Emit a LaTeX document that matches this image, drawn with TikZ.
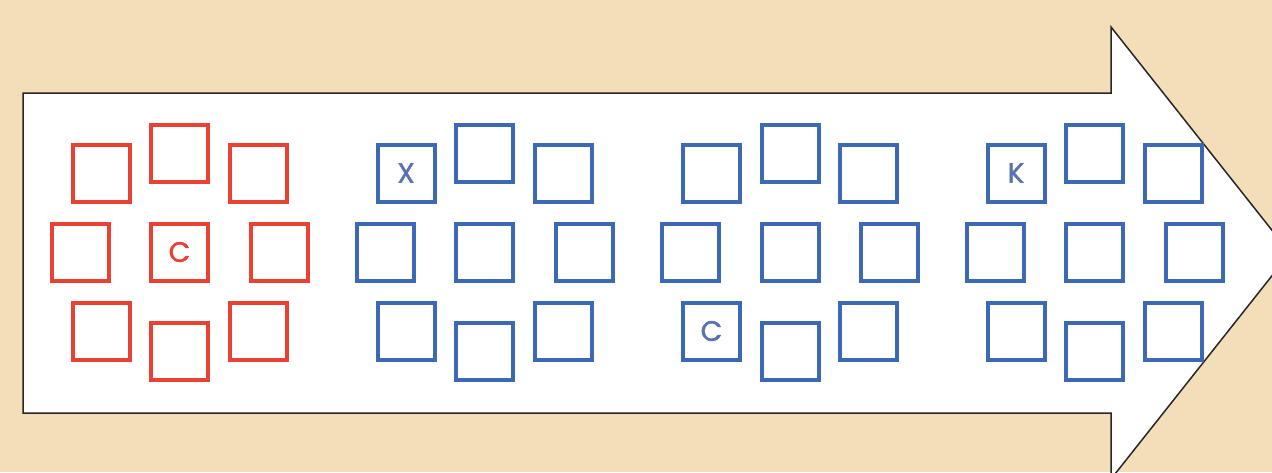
\documentclass[tikz,border=0pt]{standalone}
\usepackage{fontspec}
\usepackage{tikz}
\usetikzlibrary{positioning}
\newfontfamily\cellfont[FakeBold=1.3]{Poppins}
\definecolor{sand}{HTML}{F3DEB9}
\definecolor{cellred}{HTML}{EA4135}
\definecolor{cellblue}{HTML}{3C69B4}
\definecolor{letterblue}{HTML}{5A72B2}

\begin{document}
\begin{tikzpicture}[x=0.2mm, y=-0.2mm,
  cell/.style={draw, line width=0.8mm, minimum size=11.4mm, inner sep=0pt},
  redcell/.style={cell, draw=cellred},
  bluecell/.style={cell, draw=cellblue},
  tag/.style={font=\cellfont\fontsize{16}{16}\selectfont, inner sep=0pt},
]
% background and frame
\fill[sand] (0,0) rectangle (1272,472);
\useasboundingbox (0,0) rectangle (1272,472);
\clip (0,0) rectangle (1272,472);

% big arrow
\draw[fill=white, draw=black!85, line width=0.3mm]
  (23,93) -- (1111,93) -- (1111,27) -- (1290,253) -- (1111,479)
  -- (1111,413) -- (23,413) -- cycle;

% four rings of squares
\foreach \g/\cx/\st in {1/179.5/redcell, 2/484.5/bluecell, 3/790/bluecell, 4/1094.5/bluecell}{
  \node[\st] (g\g-c)  at (\cx,252) {};
  \node[\st] (g\g-n)  at ([shift={(0,-99)}]\cx,252) {};
  \node[\st] (g\g-s)  at ([shift={(0,99)}]\cx,252) {};
  \node[\st] (g\g-w)  at ([shift={(-99.5,0)}]\cx,252) {};
  \node[\st] (g\g-e)  at ([shift={(99.5,0)}]\cx,252) {};
  \node[\st] (g\g-nw) at ([shift={(-78.5,-79)}]\cx,252) {};
  \node[\st] (g\g-ne) at ([shift={(78.5,-79)}]\cx,252) {};
  \node[\st] (g\g-sw) at ([shift={(-78.5,79)}]\cx,252) {};
  \node[\st] (g\g-se) at ([shift={(78.5,79)}]\cx,252) {};
}

% letters
\node[tag, text=cellred] (l1) at (g1-c) {C};
\node[tag, text=letterblue] (l2) at (g2-nw) {X};
\node[tag, text=letterblue] (l3) at (g3-sw) {C};
\node[tag, text=letterblue] (l4) at (g4-nw) {K};
\end{tikzpicture}
\end{document}
